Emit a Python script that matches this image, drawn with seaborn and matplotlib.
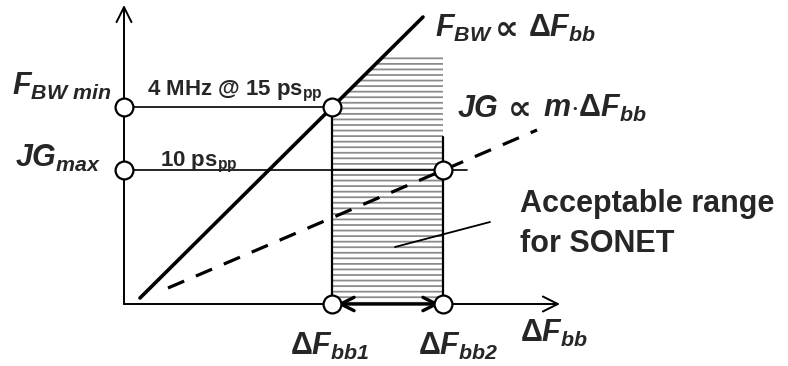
import numpy as np
import matplotlib
matplotlib.use("Agg")
import matplotlib.pyplot as plt
import seaborn as sns

sns.set_theme(style="white")
plt.rcParams["font.family"] = ["Liberation Sans", "DejaVu Sans"]
plt.rcParams["mathtext.fontset"] = "custom"
plt.rcParams["mathtext.rm"] = "Liberation Sans"
plt.rcParams["mathtext.it"] = "Liberation Sans:italic"
plt.rcParams["mathtext.bf"] = "Liberation Sans:bold"
plt.rcParams["mathtext.bfit"] = "Liberation Sans:italic:bold"
plt.rcParams["hatch.linewidth"] = 1.3

# Schematic geometry (arbitrary units along the delta-F_bb and F/JG axes)
fbw_x = [16, 299]          # F_BW proportional to delta F_bb
fbw_y = [6, 287]
jg_x = [44, 413]           # JG proportional to m * delta F_bb
jg_y = [16, 174]
fbw_min = 197              # 4 MHz @ 15 ps_pp
jg_max = 134               # 10 ps_pp
dfbb = [208, 319]          # delta F_bb1, delta F_bb2
hatch_top = 248
x_end, y_end = 436, 299

fig = plt.figure(figsize=(7.88, 3.66), dpi=100)
ax = fig.add_axes([0, 0, 1, 1])
ax.set_xlim(-124, 664)
ax.set_ylim(-62, 304)
ax.axis("off")


def seg(xv, yv, **kw):
    sns.lineplot(x=xv, y=yv, ax=ax, color="black", estimator=None, sort=False, **kw)


# acceptable range for SONET (hatched)
xs = np.linspace(dfbb[0], dfbb[1], 200)
upper = np.minimum(np.interp(xs, fbw_x, fbw_y), hatch_top)
ax.fill_between(xs, 0, upper, facecolor="white", edgecolor="#8c8c8c",
                linewidth=0, hatch="---", zorder=1)

# axes with open arrowheads
arrow = dict(arrowstyle="->,head_length=0.9,head_width=0.45", lw=1.4, color="black",
             shrinkA=0, shrinkB=0)
ax.annotate("", xy=(x_end, 0), xytext=(0, 0), arrowprops=arrow, zorder=3)
ax.annotate("", xy=(0, y_end), xytext=(0, 0), arrowprops=arrow, zorder=3)

# reference levels
seg([0, dfbb[0]], [fbw_min, fbw_min], lw=1.2, zorder=2)
seg([0, 343], [jg_max, jg_max], lw=1.2, zorder=2)

# range boundaries
seg([dfbb[0], dfbb[0]], [-8, fbw_min], lw=1.6, zorder=2)
seg([dfbb[1], dfbb[1]], [-8, 167], lw=1.6, zorder=2)

# proportional relations
seg(fbw_x, fbw_y, lw=2.6, zorder=4)
seg(jg_x, jg_y, lw=2.3, zorder=4, linestyle=(0, (5.5, 4)))

# range span arrow
ax.annotate("", xy=(dfbb[1] - 3, 0), xytext=(dfbb[0] + 5, 0),
            arrowprops=dict(arrowstyle="<->,head_length=0.8,head_width=0.4",
                            lw=2.4, color="black", shrinkA=0, shrinkB=0), zorder=5)

# pointer to the label
seg([271, 366], [57, 82], lw=1.3, zorder=4)

# marker circles
cx = [0, 0, dfbb[0], dfbb[1], dfbb[0], dfbb[1]]
cy = [fbw_min, jg_max, fbw_min, jg_max, 0, 0]
sns.scatterplot(x=cx, y=cy, ax=ax, s=165, color="white", edgecolor="black",
                linewidth=1.6, zorder=6)

# labels
big = 22
prop = dict(fontsize=24, fontweight="bold", family="DejaVu Sans", ha="center", va="center")
ax.text(-112, 209, r"$\mathbfit{F}_{\mathbfit{BW\ min}}$", fontsize=big, ha="left", va="baseline")
ax.text(-109, 137, r"$\mathbfit{JG}_{\mathbfit{max}}$", fontsize=big, ha="left", va="baseline")
ax.text(23, 209, r"$\mathbf{4\ MHz\ @\ 15\ ps}_{\mathbf{pp}}$", fontsize=16, ha="left", va="baseline")
ax.text(36, 138, r"$\mathbf{10\ ps}_{\mathbf{pp}}$", fontsize=16, ha="left", va="baseline")

ax.text(311, 267, r"$\mathbfit{F}_{\mathbfit{BW}}$", fontsize=big, ha="left", va="baseline")
ax.text(383, 275, "\u221d", **prop)
ax.text(404, 267, r"$\mathbf{\Delta}\mathbfit{F}_{\mathbfit{bb}}$", fontsize=big, ha="left", va="baseline")

ax.text(333, 187, r"$\mathbfit{JG}$", fontsize=big, ha="left", va="baseline")
ax.text(396, 195, "\u221d", **prop)
ax.text(419, 187, r"$\mathbfit{m}{\cdot}\mathbf{\Delta}\mathbfit{F}_{\mathbfit{bb}}$",
        fontsize=big, ha="left", va="baseline")

ax.text(396, 92, "Acceptable range", fontsize=22, fontweight="bold", ha="left", va="baseline")
ax.text(396, 52, "for SONET", fontsize=22, fontweight="bold", ha="left", va="baseline")
ax.text(166, -51, r"$\mathbf{\Delta}\mathbfit{F}_{\mathbfit{bb1}}$", fontsize=big, ha="left", va="baseline")
ax.text(294, -51, r"$\mathbf{\Delta}\mathbfit{F}_{\mathbfit{bb2}}$", fontsize=big, ha="left", va="baseline")
ax.text(396, -38, r"$\mathbf{\Delta}\mathbfit{F}_{\mathbfit{bb}}$", fontsize=big, ha="left", va="baseline")

fig.savefig("out.png", dpi=100)
